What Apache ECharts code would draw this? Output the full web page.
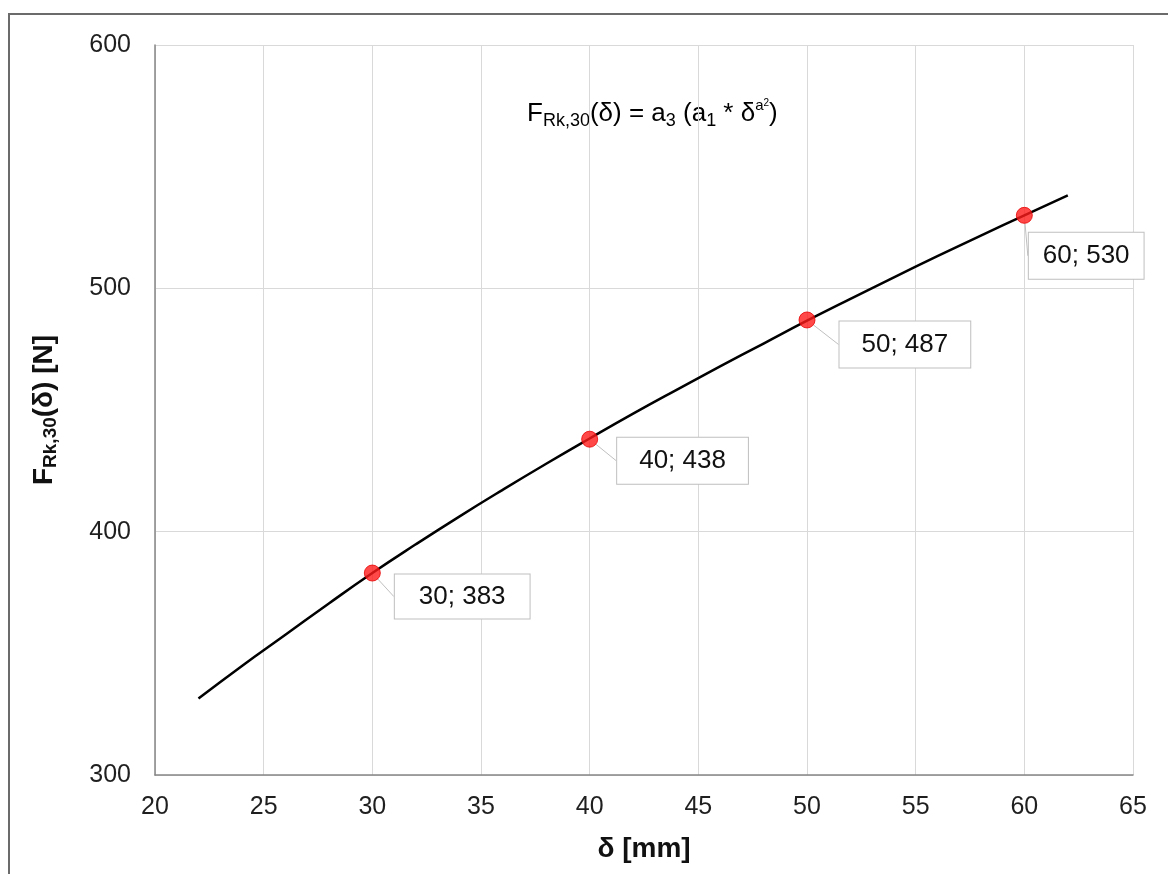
<!DOCTYPE html>
<html>
<head>
<meta charset="utf-8">
<script src="https://cdn.jsdelivr.net/npm/echarts@6/dist/echarts.min.js"></script>
<style>
html,body{margin:0;padding:0;background:#fff;}
#frame{position:absolute;left:8px;top:13px;width:1160px;height:861px;border-top:2px solid #6b6b6b;border-left:2px solid #6b6b6b;box-sizing:border-box;}
#chart{position:absolute;left:0;top:0;width:1168px;height:874px;}
</style>
</head>
<body>
<div id="frame"></div>
<div id="chart"></div>
<script>
// Curve readings (delta in mm, force in N)
const curveDelta = [22, 24, 26, 28, 30, 32, 34, 36, 38, 40, 42, 44, 46, 48, 50, 52, 54, 56, 58, 60, 62];
const curveForce = [331.4, 344.8, 357.6, 370.5, 383, 394.8, 406.2, 417.2, 427.9, 438.3, 448.5, 458.3, 467.9, 477.3, 486.7, 495.7, 504.5, 513.2, 521.7, 530, 538.2];
// Marked points
const pointDelta = [30, 40, 50, 60];
const pointForce = [383, 438, 487, 530];
// Axis ticks
const xTicks = [20, 25, 30, 35, 40, 45, 50, 55, 60, 65];
const yTicks = [300, 400, 500, 600];

const labelPos = [[31, 10], [36, 7], [41, 10], [13, 26]];
const labelPad = [[9, 24], [10, 22], [10, 22], [10, 14]];

const chart = echarts.init(document.getElementById('chart'), null, {renderer: 'canvas'});
const font = 'Arial, "Liberation Sans", sans-serif';

const option = {
  animation: false,
  backgroundColor: 'transparent',
  grid: {left: 155, right: 35, top: 45, bottom: 99, containLabel: false},
  xAxis: {
    type: 'value',
    min: xTicks[0], max: xTicks[xTicks.length - 1], interval: 5,
    name: 'δ [mm]', nameLocation: 'middle', nameGap: 60,
    nameTextStyle: {fontFamily: font, fontSize: 28, fontWeight: 'bold', color: '#111'},
    axisLine: {show: true, onZero: false, lineStyle: {color: '#868686', width: 1.5}},
    axisTick: {show: false},
    axisLabel: {fontFamily: font, fontSize: 25, color: '#1f1f1f', margin: 20},
    splitLine: {show: true, lineStyle: {color: '#d9d9d9', width: 1}}
  },
  yAxis: {
    type: 'value',
    min: yTicks[0], max: yTicks[yTicks.length - 1], interval: 100,
    name: '{b|F}{bs|Rk,30}{b|(δ) [N]}', nameLocation: 'middle', nameGap: 95, nameRotate: 90,
    nameTextStyle: {
      fontFamily: font, color: '#111',
      rich: {
        b: {fontFamily: font, fontSize: 28, fontWeight: 'bold', color: '#111', lineHeight: 32},
        bs: {fontFamily: font, fontSize: 19, fontWeight: 'bold', color: '#111', verticalAlign: 'bottom', lineHeight: 32, padding: [8, 0, 0, 0]}
      }
    },
    axisLine: {show: true, onZero: false, lineStyle: {color: '#868686', width: 1.5}},
    axisTick: {show: false},
    axisLabel: {fontFamily: font, fontSize: 25, color: '#1f1f1f', margin: 24},
    splitLine: {show: true, lineStyle: {color: '#d9d9d9', width: 1}}
  },
  graphic: [{
    type: 'text',
    left: 527, top: 98,
    style: {
      text: '{m|F}{s|Rk,30}{m|(δ) = a}{s|3}{m| (a}{s|1}{m| * δ}{sup|a}{sup2|2}{m|)}',
      rich: {
        m: {fontFamily: font, fontSize: 26, color: '#1a1a1a', lineHeight: 32},
        s: {fontFamily: font, fontSize: 18, color: '#1a1a1a', verticalAlign: 'bottom', lineHeight: 32, padding: [6, 0, 0, 0]},
        sup: {fontFamily: font, fontSize: 15, color: '#1a1a1a', verticalAlign: 'top', lineHeight: 32, padding: [0, 0, 6, 0]},
        sup2: {fontFamily: font, fontSize: 10, color: '#1a1a1a', verticalAlign: 'top', lineHeight: 32}
      }
    }
  }],
  series: [
    {
      type: 'line',
      data: curveDelta.map((d, i) => [d, curveForce[i]]),
      smooth: true,
      showSymbol: false,
      lineStyle: {color: '#000', width: 2.5},
      z: 2
    },
    {
      type: 'scatter',
      data: pointDelta.map((d, i) => ({
        value: [d, pointForce[i]],
        label: {position: labelPos[i], padding: labelPad[i]}
      })),
      symbol: 'circle',
      symbolSize: 16,
      itemStyle: {color: '#ff1a1a', borderColor: '#e60000', borderWidth: 1},
      label: {
        show: true,
        formatter: p => p.value[0] + '; ' + p.value[1],
        fontFamily: font, fontSize: 26, color: '#111', opacity: 1,
        backgroundColor: '#fff', borderColor: '#bfbfbf', borderWidth: 1,
        align: 'left', verticalAlign: 'top'
      },
      labelLine: {show: true, lineStyle: {color: '#bfbfbf', width: 1}},
      emphasis: {disabled: true},
      z: 5
    }
  ]
};
chart.setOption(option);
</script>
</body>
</html>
